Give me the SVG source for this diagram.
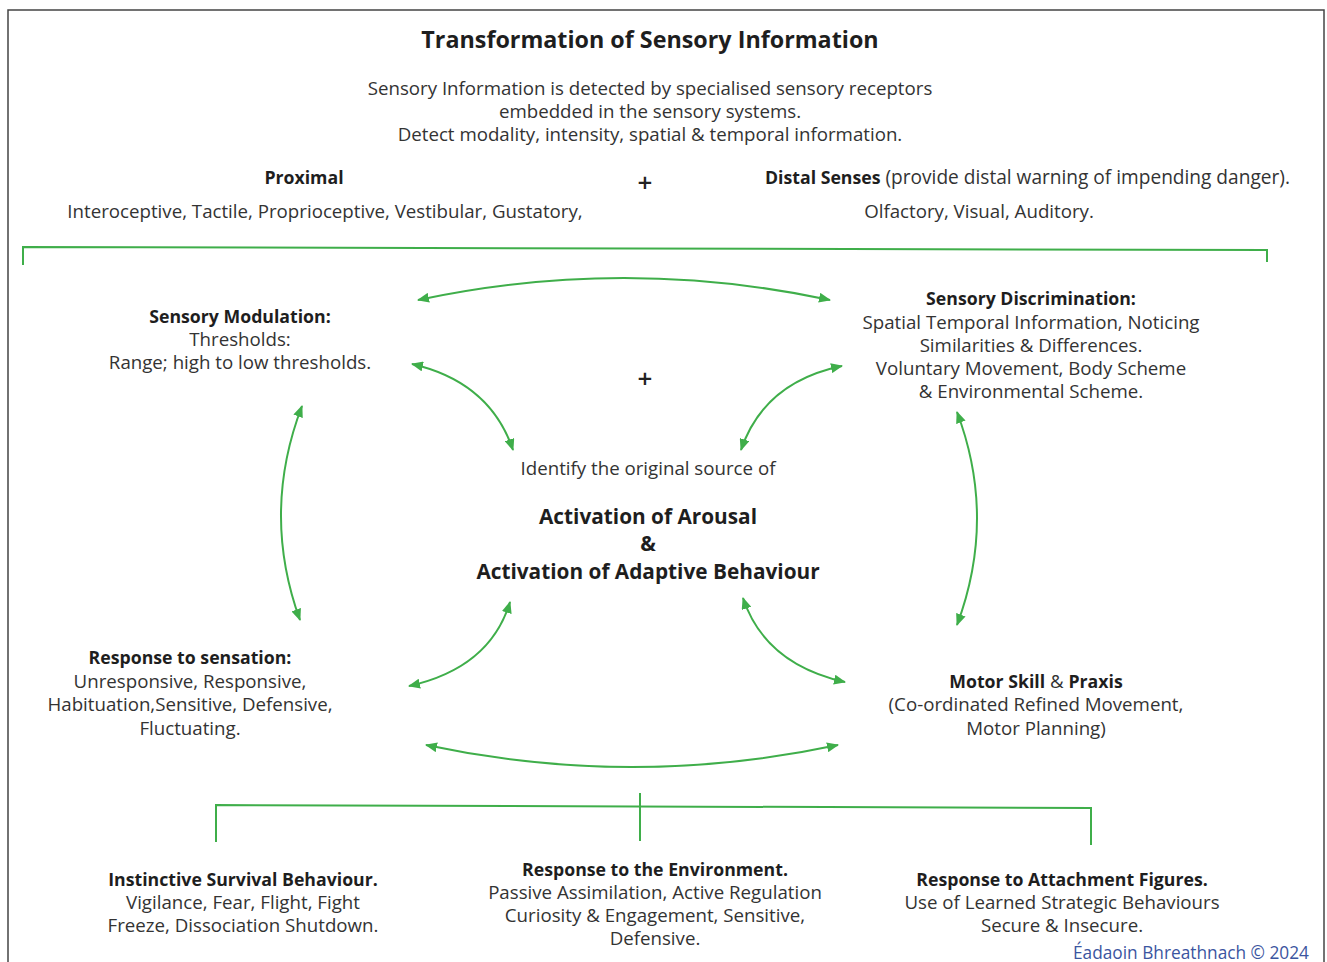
<svg xmlns="http://www.w3.org/2000/svg" width="1327" height="962" viewBox="0 0 1327 962">
<defs>
<style>
text{font-family:"Open Sans",Lato,"Liberation Sans",sans-serif;fill:#333;font-size:18.7px;text-anchor:middle}
.b{font-weight:bold;fill:#1e1e1e;font-size:17.7px}
tspan.b{font-size:17.7px}
.t{font-size:23.3px}
.c{font-size:20.8px}
text.p{font-size:26px;font-weight:600;fill:#222}
.ln{fill:none;stroke:#3fae4a;stroke-width:2}
.ar{fill:none;stroke:#3fae4a;stroke-width:2;marker-start:url(#ah);marker-end:url(#ah)}
.sig{fill:#3b55a0;font-size:17.3px}
</style>
<marker id="ah" viewBox="0 0 12 10" refX="11" refY="5" markerWidth="12" markerHeight="10" markerUnits="userSpaceOnUse" orient="auto-start-reverse">
<path d="M0,0 L12,5 L0,10 Z" fill="#3fae4a"/>
</marker>
</defs>
<rect x="8" y="10" width="1316" height="980" fill="#fff" stroke="#444" stroke-width="1.5"/>
<g id="header">
<text class="b t" x="650" y="48">Transformation of Sensory Information</text>
<text x="650" y="95">Sensory Information is detected by specialised sensory receptors</text>
<text x="650" y="118">embedded in the sensory systems.</text>
<text x="650" y="141">Detect modality, intensity, spatial &amp; temporal information.</text>
</g>
<g id="proximal">
<text class="b" x="304" y="184">Proximal</text>
<text x="325" y="218">Interoceptive, Tactile, Proprioceptive, Vestibular, Gustatory,</text>
</g>
<text class="p" x="645" y="192">+</text>
<g id="distal">
<text x="765" y="184" style="text-anchor:start;font-size:19.1px"><tspan class="b">Distal Senses</tspan> (provide distal warning of impending danger).</text>
<text x="979" y="218">Olfactory, Visual, Auditory.</text>
</g>
<g id="modulation">
<text class="b" x="240" y="323">Sensory Modulation:</text>
<text x="240" y="346">Thresholds:</text>
<text x="240" y="369">Range; high to low thresholds.</text>
</g>
<text class="p" x="645" y="388">+</text>
<g id="discrimination">
<text class="b" x="1031" y="305">Sensory Discrimination:</text>
<text x="1031" y="329">Spatial Temporal Information, Noticing</text>
<text x="1031" y="352">Similarities &amp; Differences.</text>
<text x="1031" y="375">Voluntary Movement, Body Scheme</text>
<text x="1031" y="398">&amp; Environmental Scheme.</text>
</g>
<g id="center">
<text x="648" y="475">Identify the original source of</text>
<text class="b c" x="648" y="524">Activation of Arousal</text>
<text class="b c" x="648" y="551">&amp;</text>
<text class="b c" x="648" y="579">Activation of Adaptive Behaviour</text>
</g>
<g id="response">
<text class="b" x="190" y="664">Response to sensation:</text>
<text x="190" y="688">Unresponsive, Responsive,</text>
<text x="190" y="711">Habituation,Sensitive, Defensive,</text>
<text x="190" y="735">Fluctuating.</text>
</g>
<g id="motor">
<text x="1036" y="688"><tspan class="b">Motor Skill</tspan> &amp; <tspan class="b">Praxis</tspan></text>
<text x="1036" y="711">(Co-ordinated Refined Movement,</text>
<text x="1036" y="735">Motor Planning)</text>
</g>
<g id="survival">
<text class="b" x="243" y="886">Instinctive Survival Behaviour.</text>
<text x="243" y="909">Vigilance, Fear, Flight, Fight</text>
<text x="243" y="932">Freeze, Dissociation Shutdown.</text>
</g>
<g id="environment">
<text class="b" x="655" y="876">Response to the Environment.</text>
<text x="655" y="899">Passive Assimilation, Active Regulation</text>
<text x="655" y="922">Curiosity &amp; Engagement, Sensitive,</text>
<text x="655" y="945">Defensive.</text>
</g>
<g id="attachment">
<text class="b" x="1062" y="886">Response to Attachment Figures.</text>
<text x="1062" y="909">Use of Learned Strategic Behaviours</text>
<text x="1062" y="932">Secure &amp; Insecure.</text>
</g>
<text class="sig" x="1309" y="959" style="text-anchor:end">Éadaoin Bhreathnach © 2024</text>
<g id="connectors">
<path class="ln" d="M23,265 V247 L1267,250 V262"/>
<path class="ln" d="M216,842 V805 L1091,808 V845"/>
<path class="ln" d="M640,793 V841"/>
<path class="ar" d="M418,300 Q624,256 830,300"/>
<path class="ar" d="M426,745 Q632,789 838,745"/>
<path class="ar" d="M302,406 Q261,513 300,620"/>
<path class="ar" d="M957,412 Q997,518 957,625"/>
<path class="ar" d="M412,364 Q490,382 513,450"/>
<path class="ar" d="M842,366 Q764,382 741,450"/>
<path class="ar" d="M510,602 Q490,668 409,686"/>
<path class="ar" d="M743,598 Q765,664 845,682"/>
</g>
</svg>
